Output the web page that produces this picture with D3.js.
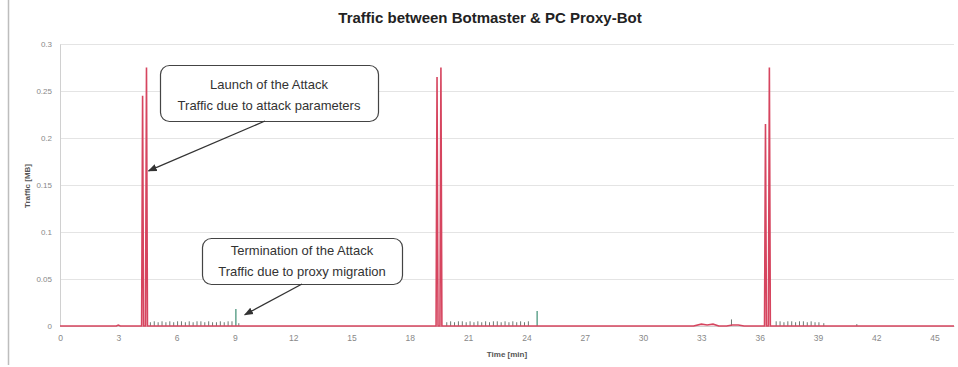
<!DOCTYPE html>
<html>
<head>
<meta charset="utf-8">
<script src="https://cdn.jsdelivr.net/npm/d3@7"></script>
<style>
  body { margin: 0; background: #fff; }
  #chart { width: 958px; height: 367px; }
</style>
</head>
<body>
<div id="chart"></div>
<script>
// red series: bot <-> botmaster attack traffic (time in min, MB)
const attackTimes = [0, 2.9, 3.0, 3.1, 4.2, 4.25, 4.3, 4.4, 4.45, 4.5, 19.35, 19.4, 19.45, 19.55, 19.6, 19.65,
  32.6, 33.0, 33.3, 33.6, 33.9, 34.3, 34.6, 34.9, 35.2, 36.25, 36.3, 36.35, 36.45, 36.5, 36.55, 46];
const attackValues = [0, 0, 0.001, 0, 0, 0.245, 0, 0, 0.275, 0, 0, 0.265, 0, 0, 0.275, 0,
  0, 0.002, 0.001, 0.002, 0, 0, 0.001, 0.001, 0, 0, 0.215, 0, 0, 0.275, 0, 0];

// grey series: keep-alive traffic during the attack
const keepAliveTimes = [4.65, 4.85, 5.05, 5.25, 5.45, 5.65, 5.85, 6.05, 6.25, 6.45, 6.65, 6.85, 7.05, 7.25, 7.45,
  7.65, 7.85, 8.05, 8.25, 8.45, 8.65, 8.85, 9.2,
  19.9, 20.1, 20.3, 20.5, 20.7, 20.9, 21.1, 21.3, 21.5, 21.7, 21.9, 22.1, 22.3, 22.5, 22.7, 22.9, 23.1,
  23.3, 23.5, 23.7, 23.9, 24.1,
  34.55, 36.85, 37.05, 37.25, 37.45, 37.65, 37.85, 38.05, 38.25, 38.45, 38.65, 38.85, 39.05, 39.3, 41.0];
const keepAliveValues = [0.004, 0.005, 0.004, 0.005, 0.004, 0.005, 0.004, 0.005, 0.005, 0.004, 0.005, 0.004, 0.005, 0.005, 0.004,
  0.005, 0.004, 0.004, 0.005, 0.004, 0.005, 0.005, 0.003,
  0.004, 0.005, 0.004, 0.005, 0.005, 0.004, 0.005, 0.004, 0.005, 0.004, 0.005, 0.004, 0.005, 0.005, 0.004, 0.005, 0.004,
  0.005, 0.004, 0.005, 0.004, 0.005,
  0.007, 0.005, 0.005, 0.004, 0.005, 0.005, 0.004, 0.005, 0.005, 0.004, 0.005, 0.004, 0.004, 0.003, 0.002];

// green series: proxy migration traffic
const migrationTimes = [9.05, 24.55];
const migrationValues = [0.018, 0.016];

const yTicks = [0, 0.05, 0.1, 0.15, 0.2, 0.25, 0.3];
const xTicks = [0, 3, 6, 9, 12, 15, 18, 21, 24, 27, 30, 33, 36, 39, 42, 45];

const callouts = [
  { lines: ["Launch of the Attack", "Traffic due to attack parameters"], t: 4.35, v: 0.165,
    box: [160, 65, 218, 56], textTop: 24, from: [265, 121] },
  { lines: ["Termination of the Attack", "Traffic due to proxy migration"], t: 9.3, v: 0.012,
    box: [202, 238, 200, 46], textTop: 17, from: [302, 284] }
];

const width = 958, height = 367;
const svg = d3.select("#chart").append("svg")
  .attr("width", width).attr("height", height)
  .style("font-family", "'Liberation Sans', Arial, sans-serif");

const x = d3.scaleLinear().domain([0, 46]).range([60, 954]);
const y = d3.scaleLinear().domain([0, 0.3]).range([326, 44]);

// chart border (left edge visible)
svg.append("line")
  .attr("x1", 8.5).attr("x2", 8.5).attr("y1", 0).attr("y2", 365)
  .attr("stroke", "#bdbdbd").attr("stroke-width", 1.5);

// gridlines
svg.append("g")
  .selectAll("line")
  .data(yTicks.filter(d => d > 0))
  .join("line")
  .attr("x1", 60).attr("x2", 954)
  .attr("y1", d => y(d) + 0.5).attr("y2", d => y(d) + 0.5)
  .attr("stroke", "#e4e4e4");

// y axis
const yAxis = svg.append("g")
  .attr("transform", "translate(60,0)")
  .call(d3.axisLeft(y).tickValues(yTicks).tickSize(0).tickPadding(8).tickFormat(d => String(d)));
yAxis.select(".domain").attr("stroke", "#d0d0d0");
yAxis.selectAll("text").attr("font-size", 8).attr("fill", "#888");

// x axis
const xAxis = svg.append("g")
  .attr("transform", "translate(0,326)")
  .call(d3.axisBottom(x).tickValues(xTicks).tickSize(0).tickPadding(9));
xAxis.select(".domain").attr("stroke", "#d0d0d0");
xAxis.selectAll("text").attr("font-size", 8.5).attr("fill", "#888");

// title
svg.append("text")
  .attr("x", 490).attr("y", 23)
  .attr("text-anchor", "middle")
  .attr("font-size", 15).attr("font-weight", "bold")
  .attr("fill", "#222")
  .text("Traffic between Botmaster & PC Proxy-Bot");

svg.append("text")
  .attr("transform", "translate(30,186) rotate(-90)")
  .attr("text-anchor", "middle")
  .attr("font-size", 8).attr("font-weight", "bold").attr("fill", "#555")
  .text("Traffic [MB]");

svg.append("text")
  .attr("x", 507).attr("y", 357)
  .attr("text-anchor", "middle")
  .attr("font-size", 8).attr("font-weight", "bold").attr("fill", "#555")
  .text("Time [min]");

// impulse bars
function impulses(times, values, color, w) {
  svg.append("g")
    .selectAll("line")
    .data(times.map((t, i) => ({ t, v: values[i] })))
    .join("line")
    .attr("x1", d => x(d.t)).attr("x2", d => x(d.t))
    .attr("y1", y(0)).attr("y2", d => y(d.v))
    .attr("stroke", color).attr("stroke-width", w);
}
impulses(keepAliveTimes, keepAliveValues, "#6a7a72", 1);
impulses(migrationTimes, migrationValues, "#3e8f73", 1.2);

// red line
const attack = attackTimes.map((t, i) => ({ t, v: attackValues[i] }));
svg.append("path")
  .datum(attack)
  .attr("fill", "none")
  .attr("stroke", "#d6455f")
  .attr("stroke-width", 1.6)
  .attr("stroke-linejoin", "miter")
  .attr("d", d3.line().x(d => x(d.t)).y(d => y(d.v)));

// callouts
svg.append("defs").append("marker")
  .attr("id", "arr")
  .attr("viewBox", "0 0 10 10")
  .attr("refX", 9).attr("refY", 5)
  .attr("markerWidth", 7).attr("markerHeight", 7)
  .attr("orient", "auto")
  .append("path")
  .attr("d", "M0,1 L10,5 L0,9 z")
  .attr("fill", "#333");

callouts.forEach(c => {
  const [bx, by, bw, bh] = c.box;
  svg.append("rect")
    .attr("x", bx + 0.5).attr("y", by + 0.5)
    .attr("width", bw).attr("height", bh)
    .attr("rx", 9)
    .attr("fill", "#fff")
    .attr("stroke", "#444").attr("stroke-width", 1.2);
  c.lines.forEach((l, i) => {
    svg.append("text")
      .attr("x", bx + bw / 2)
      .attr("y", by + c.textTop + i * 21)
      .attr("text-anchor", "middle")
      .attr("font-size", 13).attr("fill", "#333")
      .text(l);
  });
  svg.append("line")
    .attr("x1", c.from[0]).attr("y1", c.from[1])
    .attr("x2", x(c.t) + 4).attr("y2", y(c.v))
    .attr("stroke", "#333").attr("stroke-width", 1.3)
    .attr("marker-end", "url(#arr)");
});
</script>
</body>
</html>
